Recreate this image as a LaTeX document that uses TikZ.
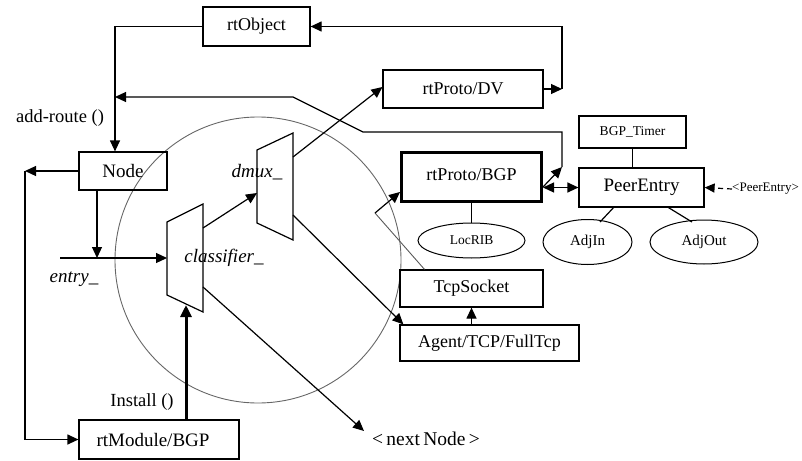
\documentclass[tikz,border=0pt]{standalone}
\usepackage{fontspec}
\setmainfont{Liberation Serif}
\usetikzlibrary{arrows.meta,shapes.geometric,calc}
\tikzset{
  box/.style={draw,line width=1.2pt,inner sep=0pt,font=\fontsize{18}{20}\selectfont},
  smallbox/.style={box,font=\fontsize{13.5}{15}\selectfont},
  oval/.style={draw,line width=1pt,ellipse,inner sep=0pt,font=\fontsize{15}{17}\selectfont},
  lbl/.style={inner sep=0pt,font=\fontsize{18.5}{20}\selectfont},
  itl/.style={inner sep=0pt,font=\fontsize{19}{21}\selectfont\itshape},
  arr/.style={line width=1.2pt,-{Triangle[length=11pt,width=10pt]}},
  plain/.style={line width=1.2pt},
  dbl/.style={line width=1.2pt,{Triangle[length=11pt,width=10pt]}-{Triangle[length=11pt,width=10pt]}},
  thickarr/.style={line width=3pt,-{Triangle[length=12pt,width=11pt]}},
  trap/.style={line width=1.2pt,draw}
}
\begin{document}
\begin{tikzpicture}[x=1pt,y=-1pt]
\useasboundingbox (0,0) rectangle (802,460);
% big circle
\draw[gray!80!black,line width=0.9pt] (258,260) circle[radius=143];
% boxes
\node[box,minimum width=107pt,minimum height=39pt] (rtObject) at (256.5,26.5) {rtObject};
\node[box,minimum width=160pt,minimum height=38pt] (DV) at (463,89) {rtProto/DV};
\node[box,line width=3pt,minimum width=140pt,minimum height=49pt] (BGP) at (471.5,177) {\raisebox{4pt}{rtProto/BGP}};
\node[box,font=\fontsize{19}{21}\selectfont,minimum width=125pt,minimum height=39pt] (PeerEntry) at (641.5,187.5) {PeerEntry};
\node[smallbox,minimum width=107pt,minimum height=32pt] (Timer) at (632.5,132) {BGP\_Timer};
\node[box,minimum width=143pt,minimum height=37pt] (Tcp) at (471.5,288.5) {TcpSocket};
\node[box,minimum width=179pt,minimum height=36pt] (Agent) at (489.5,343) {Agent/TCP/FullTcp};
\node[box,font=\fontsize{19}{21}\selectfont,minimum width=88pt,minimum height=38pt] (Node) at (123,171) {Node};
\node[box,font=\fontsize{19}{21}\selectfont,minimum width=160pt,minimum height=39pt] (Module) at (159,439.5) {\hspace*{-12pt}rtModule/BGP};
% ellipses
\node[oval,font=\fontsize{13.5}{15}\selectfont,minimum width=107pt,minimum height=35pt] (LocRIB) at (471.5,240.5) {LocRIB};
\node[oval,minimum width=89pt,minimum height=45pt] (AdjIn) at (587.5,242) {AdjIn};
\node[oval,minimum width=108pt,minimum height=44pt] (AdjOut) at (704,242) {AdjOut};
% labels
\node[lbl] (addroute) at (60,118) {add-route ()};
\node[itl] (entrylbl) at (74,279) {entry\_};
\node[itl] (classlbl) at (224,258) {classifier\_};
\node[itl] (dmuxlbl) at (257,172) {dmux\_};
\node[lbl] (install) at (142,402) {Install ()};
\node[lbl,anchor=west,font=\fontsize{19.5}{21}\selectfont] (next) at (372,439) {<\,next\,Node\,>};
\node[inner sep=0pt,anchor=west,font=\fontsize{13}{15}\selectfont] (pe) at (732,189) {<PeerEntry>};
% trapezoids
\coordinate (c1) at (167,222); \coordinate (c2) at (203,204);
\coordinate (c3) at (203,312); \coordinate (c4) at (167,295);
\draw[trap] (c1) -- (c2) -- (c3) -- (c4) -- cycle;
\coordinate (d1) at (257,150); \coordinate (d2) at (293,133);
\coordinate (d3) at (293,240); \coordinate (d4) at (257,223);
\draw[trap] (d1) -- (d2) -- (d3) -- (d4) -- cycle;
% helper coordinates
\coordinate (colN) at (115,0);
\coordinate (colR) at (562,0);
\coordinate (colL) at (25,0);
\coordinate (bend1) at (363,132);
\coordinate (bend2) at (293,97);
\coordinate (entS) at (60,258);
\coordinate (entM) at (97,258);
\coordinate (clIn) at (167,258);
\coordinate (clOut1) at (203,228);
\coordinate (clOut2) at (203,287);
\coordinate (dmIn) at (257,193);
\coordinate (dmOut1) at (293,157);
\coordinate (dmOut2) at (293,215);
\coordinate (nextEnd) at (364,431);
\coordinate (tcpBend) at (375,213);
% connectors
\draw[arr] (rtObject.west) -| (colN |- Node.north);
\draw[arr] (DV.east) -- (colR |- DV.east);
\draw[arr] (colR |- DV.east) |- (rtObject.east);
\draw[arr] ([yshift=-10pt]BGP.east) -- (colR |- 0,167);
\draw[arr] (colR |- 0,167) |- (bend1) -- (bend2) -- (colN |- bend2);
\draw[dbl] (BGP.east |- PeerEntry.west) -- (PeerEntry.west);
\draw[plain] (Timer.south) -- (Timer.south |- PeerEntry.north);
\draw[plain] (BGP.south) -- (LocRIB.north);
\draw[plain] ([xshift=-28pt]PeerEntry.south) -- (600,222);
\draw[plain] ([xshift=27pt]PeerEntry.south) -- (692,222);
\draw[line width=1.2pt,dash pattern=on 5pt off 4pt,-{Triangle[length=10pt,width=9pt]}] (pe.west) -- (PeerEntry.east);
\draw[arr] (Node.west) -- (colL |- Node.west);
\draw[arr] (colL |- Node.west) |- (Module.west);
\draw[arr] (entM |- Node.south) -- (entM);
\draw[arr] (entS) -- (clIn);
\draw[arr] (clOut1) -- (dmIn);
\draw[arr] (dmOut1) -- (DV.west |- 0,87);
\draw[arr] (dmOut2) -- ([xshift=4pt]Agent.north west);
\draw[arr] (clOut2) -- (nextEnd);
\draw[thickarr] (Module.north -| 186,0) -- (186,305);
\draw[line width=0.9pt,gray!70!black] ([xshift=-47pt]Tcp.north) -- (tcpBend);
\draw[arr] (tcpBend) -- (BGP.west |- 0,192);
\draw[arr] (Tcp.south |- Agent.north) -- (Tcp.south);
\end{tikzpicture}
\end{document}
